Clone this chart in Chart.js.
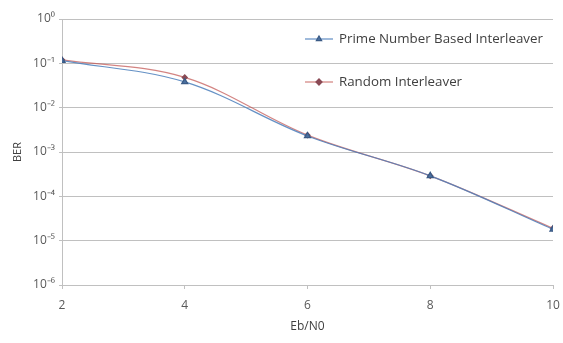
<!DOCTYPE html>
<html><head><meta charset="utf-8">
<script src="https://cdn.jsdelivr.net/npm/chart.js@4/dist/chart.umd.min.js"></script>
<style>html,body{margin:0;padding:0;background:#fff}#wrap{width:563px;height:343px}</style>
</head><body><div id="wrap"><canvas id="c" width="563" height="343"></canvas></div>
<script>
const ebn0 = [2, 4, 6, 8, 10];
const primeBER = [0.115, 0.038, 0.0023, 0.00029, 0.000018];
const randomBER = [0.12, 0.048, 0.0024, 0.00029, 0.000019];
const seriesNames = ['Prime Number Based Interleaver', 'Random Interleaver'];
const yTickLabels = {0:'10⁰',1:'10⁻¹',2:'10⁻²',3:'10⁻³',4:'10⁻⁴',5:'10⁻⁵',6:'10⁻⁶'};
const xTitle = 'Eb/N0', yTitle = 'BER';

const blue = '#4a7ebb', red = '#c0504d';
const legendPlugin = {
  id: 'inlegend',
  afterDraw(chart) {
    const ctx = chart.ctx;
    const ys = [39, 82];
    ctx.save();
    let size = 13;
    ctx.font = size + 'px "Open Sans", sans-serif';
    const w = ctx.measureText(chart.data.datasets[0].label).width;
    size = size * 204 / w;
    chart.data.datasets.forEach((ds, i) => {
      const y = ys[i];
      ctx.strokeStyle = ds.borderColor; ctx.lineWidth = 1.25;
      ctx.beginPath(); ctx.moveTo(305, y); ctx.lineTo(333, y); ctx.stroke();
      ctx.strokeStyle = ds.pointBorderColor; ctx.fillStyle = ds.pointBackgroundColor;
      Chart.helpers.drawPoint(ctx, {pointStyle: ds.pointStyle, radius: 3, borderWidth: 1}, 319, y);
      ctx.fillStyle = '#404040';
      ctx.font = size + 'px "Open Sans", sans-serif';
      ctx.textBaseline = 'middle'; ctx.textAlign = 'left';
      ctx.fillText(ds.label, 339, y);
    });
    ctx.restore();
  }
};

new Chart(document.getElementById('c'), {
  type: 'line',
  data: {
    datasets: [
      { label: seriesNames[0], data: ebn0.map((x,i)=>({x, y: primeBER[i]})),
        borderColor: 'rgba(74,126,187,0.85)', backgroundColor: blue, pointBackgroundColor: '#4a6f9f', pointBorderColor: '#3a5a85',
        pointStyle: 'triangle', pointRadius: 3.5, borderWidth: 1.25, tension: 0.35 },
      { label: seriesNames[1], data: ebn0.map((x,i)=>({x, y: randomBER[i]})),
        borderColor: 'rgba(192,80,77,0.7)', backgroundColor: red, pointBackgroundColor: '#8a4a55', pointBorderColor: '#8a4a55',
        pointStyle: 'rectRot', pointRadius: 2.5, borderWidth: 1.25, tension: 0.35 }
    ]
  },
  options: {
    responsive: false, animation: false,
    layout: { padding: { left: 6, right: 10, top: 19, bottom: 0 } },
    plugins: { legend: { display: false }, tooltip: { enabled: false } },
    scales: {
      x: { type: 'linear', min: 2, max: 10,
        ticks: { stepSize: 2, color: '#595959', font: { size: 12, family: '"Open Sans", sans-serif' }, padding: 9 },
        grid: { display: true, drawOnChartArea: false, drawTicks: true, tickLength: 4, color: '#c0c0c0' },
        border: { color: '#c0c0c0', width: 1 },
        title: { display: true, text: xTitle, color: '#404040', font: { size: 12, family: '"Open Sans", sans-serif' }, padding: { top: 2, bottom: 9 } },
        afterFit(s){ s.height = 58; s.paddingRight = 0; s.paddingLeft = 0; } },
      y: { type: 'logarithmic', min: 1e-6, max: 1,
        afterBuildTicks(s){ s.ticks = [0,1,2,3,4,5,6].map(k=>({value: Math.pow(10,-k)})); },
        ticks: { color: '#595959', font: { size: 12, family: '"Open Sans", sans-serif' }, padding: 4,
          callback(v){ const k = Math.round(-Math.log10(v)); return yTickLabels[k]; } },
        grid: { color: '#c0c0c0', drawTicks: true, tickLength: 3 },
        border: { color: '#c0c0c0', width: 1 },
        title: { display: true, text: yTitle, color: '#404040', font: { size: 11, family: '"Open Sans", sans-serif' }, padding: { top: 5, bottom: 0 } },
        afterFit(s){ s.width = 56; } }
    }
  },
  plugins: [legendPlugin]
});
</script></body></html>
